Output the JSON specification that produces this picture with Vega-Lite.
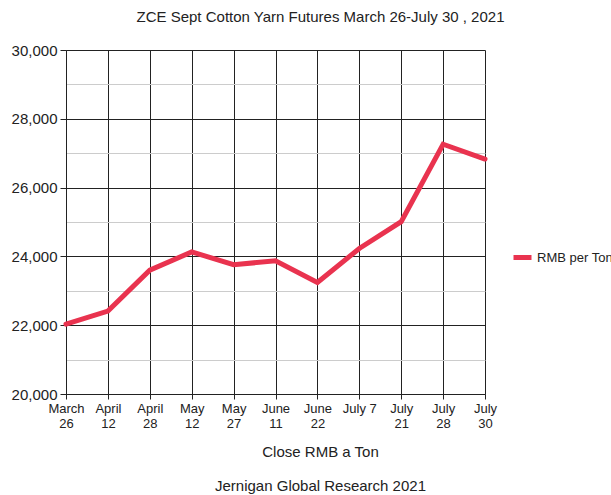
{
  "$schema": "https://vega.github.io/schema/vega-lite/v6.json",
  "autosize": "none",
  "width": 419,
  "height": 344,
  "padding": {"left": 66, "top": 50, "right": 126, "bottom": 101},
  "background": "white",
  "config": {
    "font": "Liberation Sans",
    "view": {"stroke": null},
    "title": {"font": "Liberation Sans", "fontSize": 15, "fontWeight": "normal", "color": "#222"},
    "axis": {"labelFont": "Liberation Sans", "titleFont": "Liberation Sans", "labelColor": "#222", "titleColor": "#222"},
    "legend": {"labelFont": "Liberation Sans"}
  },
  "title": {
    "text": "ZCE Sept Cotton Yarn Futures March 26-July 30 , 2021",
    "anchor": "middle",
    "dx": 45,
    "offset": 18
  },
  "data": {
    "values": [
      {"date": "March 26", "close": 22030},
      {"date": "April 12", "close": 22410},
      {"date": "April 28", "close": 23600},
      {"date": "May 12", "close": 24130},
      {"date": "May 27", "close": 23760},
      {"date": "June 11", "close": 23870},
      {"date": "June 22", "close": 23240},
      {"date": "July 7", "close": 24230},
      {"date": "July 21", "close": 25010},
      {"date": "July 28", "close": 27260},
      {"date": "July 30", "close": 26830}
    ]
  },
  "mark": {"type": "line", "strokeWidth": 5, "strokeCap": "round"},
  "encoding": {
    "x": {
      "field": "date",
      "type": "ordinal",
      "sort": null,
      "scale": {"type": "point", "padding": 0},
      "axis": {
        "labelAngle": 0,
        "labelFontSize": 13,
        "labelLineHeight": 15,
        "labelPadding": 3,
        "labelExpr": "datum.value == 'July 7' ? datum.value : split(datum.value, ' ')",
        "tickSize": 5,
        "tickColor": "#222",
        "domainColor": "#222",
        "grid": true,
        "gridColor": "#222",
        "gridOpacity": 1,
        "title": ["Close RMB a Ton", "Jernigan Global Research  2021"],
        "titleFontSize": 15,
        "titleFontWeight": "normal",
        "titleLineHeight": 34,
        "titleX": 254,
        "titleY": 62,
        "titleBaseline": "alphabetic",
        "titleAnchor": "middle",
        "titleAlign": "center"
      }
    },
    "y": {
      "field": "close",
      "type": "quantitative",
      "scale": {"domain": [20000, 30000], "nice": false, "zero": false},
      "axis": {
        "values": [20000, 21000, 22000, 23000, 24000, 25000, 26000, 27000, 28000, 29000, 30000],
        "format": ",d",
        "labelExpr": "datum.value % 2000 === 0 ? datum.label : ''",
        "labelFontSize": 15,
        "labelPadding": 3,
        "tickSize": 6,
        "tickColor": {"condition": {"test": "datum.value % 2000 === 0", "value": "#222"}, "value": "transparent"},
        "domainColor": "#222",
        "grid": true,
        "gridOpacity": 1,
        "gridColor": {"condition": {"test": "datum.value % 2000 === 0", "value": "#222"}, "value": "#cccccc"},
        "title": null
      }
    },
    "color": {
      "datum": "RMB per Ton",
      "type": "nominal",
      "scale": {"range": ["#e9334f"]},
      "legend": {
        "title": null,
        "orient": "none",
        "legendX": 445,
        "legendY": 196,
        "padding": 0,
        "symbolType": "stroke",
        "symbolSize": 324,
        "symbolStrokeWidth": 5,
        "labelFontSize": 13,
        "labelColor": "#222",
        "labelOffset": 3
      }
    }
  }
}
